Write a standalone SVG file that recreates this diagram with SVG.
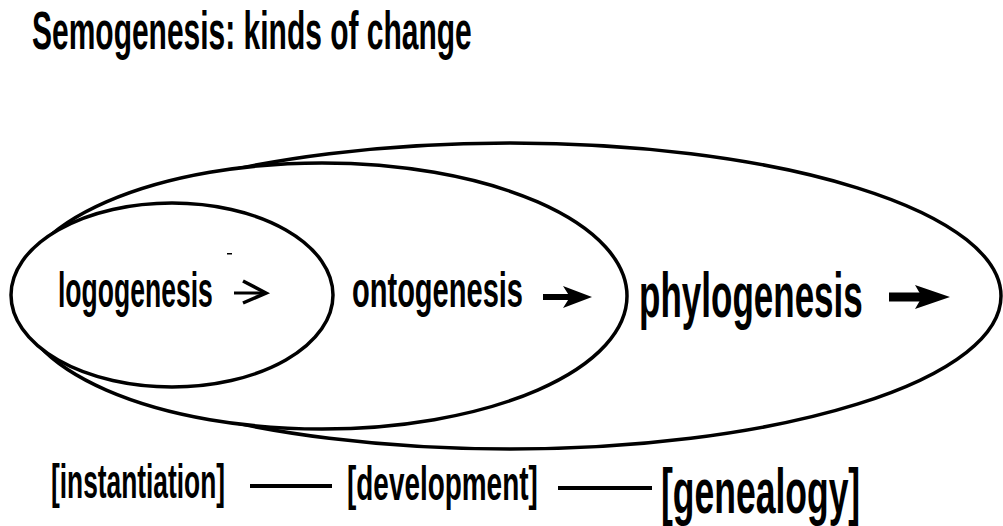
<svg xmlns="http://www.w3.org/2000/svg" width="1003" height="526" viewBox="0 0 1003 526">
  <style>
    .t { font-family: "Liberation Sans", Arial, sans-serif; font-weight: bold; fill: #000; }
    .ell { fill: #fff; stroke: #000; stroke-width: 3.5; }
    .dash { stroke: #000; stroke-width: 4; fill: none; }
  </style>
  <rect width="1003" height="526" fill="#fff"/>
  <g id="title">
    <text class="t" transform="translate(32,49) scale(0.6,1.12)" font-size="48" textLength="733" lengthAdjust="spacingAndGlyphs">Semogenesis: kinds of change</text>
  </g>
  <g id="phylogenesis">
    <ellipse class="ell" cx="510" cy="296" rx="491" ry="153"/>
    <text class="t" transform="translate(639,317) scale(0.6,1.12)" font-size="57" textLength="373" lengthAdjust="spacingAndGlyphs">phylogenesis</text>
    <line x1="889" y1="297" x2="935" y2="297" stroke="#000" stroke-width="9"/>
    <polygon points="950,297 915,285 922,297 915,309" fill="#000"/>
  </g>
  <g id="ontogenesis">
    <ellipse class="ell" cx="322" cy="296" rx="305" ry="133"/>
    <text class="t" transform="translate(352,307) scale(0.6,1.12)" font-size="45" textLength="285" lengthAdjust="spacingAndGlyphs">ontogenesis</text>
    <line x1="543" y1="297" x2="580" y2="297" stroke="#000" stroke-width="6"/>
    <polygon points="592,297 563,286 570,297 563,308" fill="#000"/>
  </g>
  <g id="logogenesis">
    <ellipse class="ell" cx="172" cy="295" rx="161" ry="92"/>
    <text class="t" transform="translate(58,307) scale(0.6,1.12)" font-size="45" textLength="258" lengthAdjust="spacingAndGlyphs">logogenesis</text>
    <line x1="234" y1="293" x2="264" y2="293" stroke="#000" stroke-width="3"/>
    <polyline points="243,281 266,293 243,303" fill="none" stroke="#000" stroke-width="3.5"/>
    <rect x="227" y="253" width="5" height="1.5" fill="#000"/>
  </g>
  <g id="instantiation">
    <text class="t" transform="translate(51,498) scale(0.6,1.12)" font-size="43" textLength="290" lengthAdjust="spacingAndGlyphs">[instantiation]</text>
  </g>
  <g id="development">
    <text class="t" transform="translate(347,500) scale(0.6,1.12)" font-size="43" textLength="318" lengthAdjust="spacingAndGlyphs">[development]</text>
  </g>
  <g id="genealogy">
    <text class="t" transform="translate(661,513) scale(0.6,1.12)" font-size="56" textLength="332" lengthAdjust="spacingAndGlyphs">[genealogy]</text>
  </g>
  <g id="connectors">
    <line class="dash" x1="250" y1="486" x2="332" y2="486"/>
    <line class="dash" x1="558" y1="488" x2="652" y2="488"/>
  </g>
</svg>
